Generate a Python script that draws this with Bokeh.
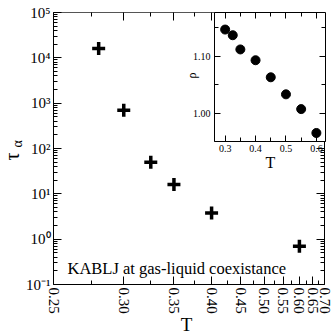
import math
from bokeh.plotting import figure
from bokeh.models import (Range1d, FixedTicker, CustomJSTickFormatter, LinearAxis,
                          LogAxis, Label)
from bokeh.layouts import column
from bokeh.embed import file_html
from bokeh.resources import INLINE

# ---------------- data ----------------
# main panel: relaxation time vs temperature (x axis is 1/T, labelled in T)
T_main = [0.28, 0.30, 0.325, 0.35, 0.40, 0.60]
tau_alpha = [16000, 700, 50, 16, 3.8, 0.7]

x_major_T = [0.25, 0.30, 0.35, 0.40, 0.45, 0.50, 0.55, 0.60, 0.65, 0.70]
x_minor_T = [0.275, 0.325, 0.375, 0.425, 0.475, 0.525, 0.575, 0.625, 0.675]
y_major = [1e-1, 1e0, 1e1, 1e2, 1e3, 1e4, 1e5]

# inset: density vs temperature
T_inset = [0.30, 0.325, 0.35, 0.40, 0.45, 0.50, 0.55, 0.60]
rho = [1.147, 1.137, 1.112, 1.093, 1.063, 1.033, 1.007, 0.965]
inset_x_major = [0.3, 0.4, 0.5, 0.6]
inset_x_minor = [0.35, 0.45, 0.55]
inset_y_major = [1.00, 1.10]
inset_y_minor = [0.95, 1.05, 1.15]

annotation = "KABLJ at gas-liquid coexistance"

FONT = "Liberation Serif"
W, H = 332, 335

# ---------------- main figure ----------------
inv = lambda v: 1.0 / v
p = figure(width=W, height=H,
           x_range=Range1d(inv(x_major_T[0]), inv(x_major_T[-1])),
           y_range=Range1d(y_major[0], y_major[-1]), y_axis_type="log",
           output_backend="svg", toolbar_location=None, frame_align=False,
           min_border_left=53, min_border_right=8, min_border_top=12, min_border_bottom=51)
p.grid.visible = False
p.outline_line_color = None
p.background_fill_color = "white"

p.scatter([inv(t) for t in T_main], tau_alpha, marker="cross", size=13,
          line_width=3.5, color="black")

x_ticker = FixedTicker(ticks=[inv(t) for t in x_major_T],
                       minor_ticks=[inv(t) for t in x_minor_T])
y_minor = [m * d for d in y_major[:-1] for m in range(2, 10)]
y_ticker = FixedTicker(ticks=y_major, minor_ticks=y_minor)

sup_code = """
const sup = {'-':'\u207b','0':'\u2070','1':'\u00b9','2':'\u00b2','3':'\u00b3','4':'\u2074',
             '5':'\u2075','6':'\u2076','7':'\u2077','8':'\u2078','9':'\u2079'};
const e = Math.round(Math.log10(tick)).toString();
let s = '';
for (const c of e) s += sup[c];
return '10' + s;
"""
blank = CustomJSTickFormatter(code="return '';")


def style_axis(ax, major_in, minor_in, size):
    ax.major_tick_in = major_in
    ax.major_tick_out = 0
    ax.minor_tick_in = minor_in
    ax.minor_tick_out = 0
    ax.axis_line_color = "black"
    ax.major_tick_line_color = "black"
    ax.minor_tick_line_color = "black"
    ax.major_label_text_font = FONT
    ax.major_label_text_font_size = size
    ax.major_label_text_color = "black"


xa = p.xaxis[0]
xa.ticker = x_ticker
xa.formatter = CustomJSTickFormatter(code="return (1/tick).toFixed(2);")
style_axis(xa, 8, 4, "15px")
xa.major_label_orientation = "vertical"
xa.major_label_standoff = 3

ya = p.yaxis[0]
ya.ticker = y_ticker
ya.formatter = CustomJSTickFormatter(code=sup_code)
style_axis(ya, 8, 4, "15px")
ya.major_label_standoff = 3

top = LinearAxis(ticker=x_ticker, formatter=blank, major_label_standoff=0)
style_axis(top, 8, 4, "0px")
top.axis_line_color = "#555555"
p.add_layout(top, "above")
right = LogAxis(ticker=y_ticker, formatter=blank, major_label_standoff=0)
style_axis(right, 8, 4, "0px")
p.add_layout(right, "right")

p.add_layout(Label(x=14, y=16, x_units="screen", y_units="screen", text=annotation,
                   text_baseline="alphabetic",
                   text_font=FONT, text_font_size="16.5px", text_color="black"))

# ---------------- inset ----------------
q = figure(width=155, height=163,
           x_range=Range1d(0.265, 0.63), y_range=Range1d(0.95, 1.177),
           output_backend="svg", toolbar_location=None, frame_align=False,
           min_border_left=42, min_border_right=2, min_border_top=2, min_border_bottom=32,
           styles={"position": "absolute", "left": "172px", "top": "10px"})
q.grid.visible = False
q.outline_line_color = None
q.border_fill_alpha = 0
q.background_fill_color = "white"
q.scatter(T_inset, rho, size=9, color="black")

qx_t = FixedTicker(ticks=inset_x_major, minor_ticks=inset_x_minor)
qy_t = FixedTicker(ticks=inset_y_major, minor_ticks=inset_y_minor)
qxa = q.xaxis[0]
qxa.ticker = qx_t
style_axis(qxa, 6, 4, "10px")
qxa.major_label_standoff = 3
qya = q.yaxis[0]
qya.ticker = qy_t
qya.formatter = CustomJSTickFormatter(code="return tick.toFixed(2);")
style_axis(qya, 6, 4, "10px")
qya.major_label_standoff = 4
qtop = LinearAxis(ticker=qx_t, formatter=blank, major_label_standoff=0)
style_axis(qtop, 6, 4, "0px")
q.add_layout(qtop, "above")
qright = LinearAxis(ticker=qy_t, formatter=blank, major_label_standoff=0)
style_axis(qright, 6, 4, "0px")
q.add_layout(qright, "right")

# ---------------- text layer for axis titles (page pixel coordinates) ----------------
o = figure(width=W, height=H, x_range=Range1d(0, W), y_range=Range1d(H, 0),
           x_axis_location=None, y_axis_location=None,
           output_backend="svg", toolbar_location=None, frame_align=False,
           min_border=0, min_border_left=0, min_border_right=0,
           min_border_top=0, min_border_bottom=0,
           styles={"position": "absolute", "left": "0px", "top": "0px"})
o.grid.visible = False
o.outline_line_color = None
o.background_fill_alpha = 0
o.border_fill_alpha = 0


def title(x, y, text, size, angle=0.0, align="left"):
    o.add_layout(Label(x=x, y=y, text=text, angle=angle, text_align=align,
                       text_baseline="alphabetic", text_font=FONT,
                       text_font_size=size, text_color="black"))


title(11, 160, "\u03c4", "20px", angle=math.pi / 2)       # tau
title(17, 147, "\u03b1", "14px", angle=math.pi / 2)       # subscript alpha
title(186, 324, "T", "19px", align="center")               # main x title
title(191.5, 78, "\u03c1", "12px", angle=math.pi / 2)     # inset y title
title(270, 162, "T", "16px", align="center")               # inset x title

layout = column(p, q, o)
open("out.html", "w").write(file_html(layout, INLINE))
